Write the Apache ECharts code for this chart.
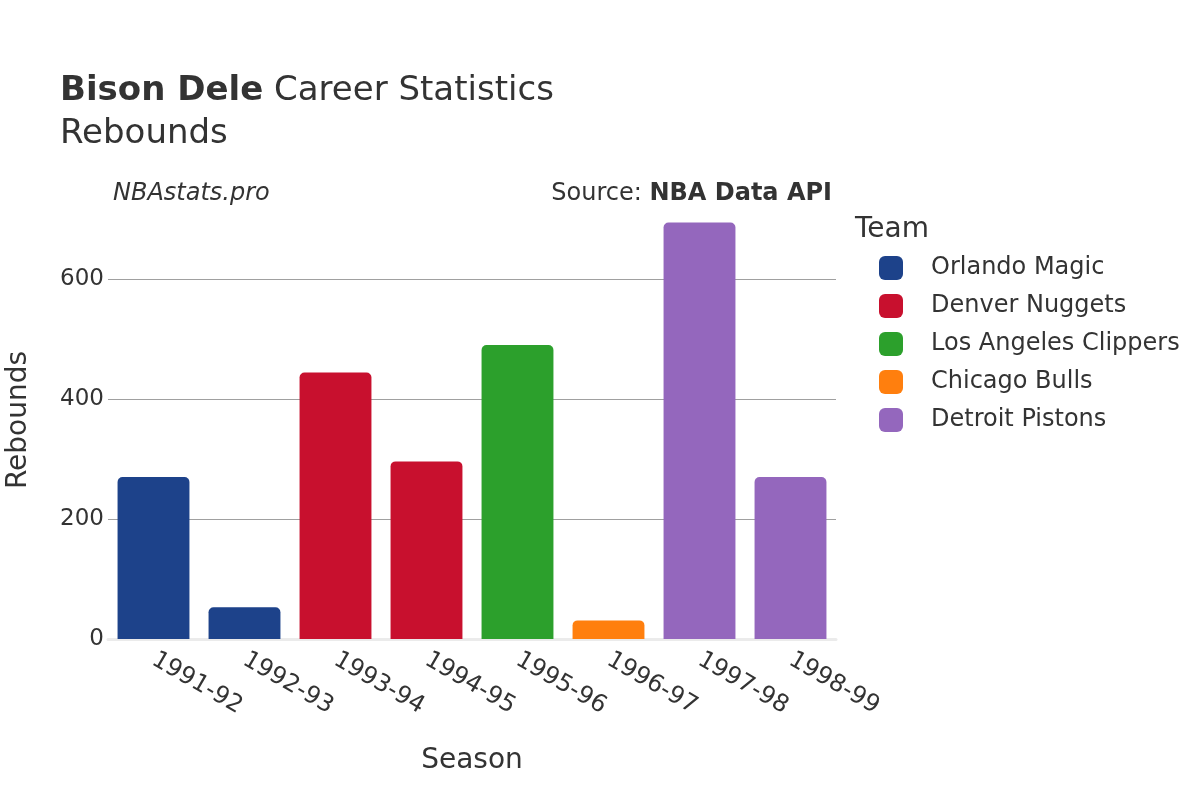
<!DOCTYPE html>
<html><head><meta charset="utf-8">
<script src="https://cdn.jsdelivr.net/npm/echarts@6/dist/echarts.min.js"></script>
<style>html,body{margin:0;padding:0;background:#fff}#c{width:1200px;height:800px}</style>
</head><body><div id="c"></div>
<script>
const seasons = ['1991-92','1992-93','1993-94','1994-95','1995-96','1996-97','1997-98','1998-99'];
const teams = ['Orlando Magic','Denver Nuggets','Los Angeles Clippers','Chicago Bulls','Detroit Pistons'];
const teamColors = ['#1d428a','#c8102e','#2ca02c','#ff7f0e','#9467bd'];
const seasonTeam = ['Orlando Magic','Orlando Magic','Denver Nuggets','Denver Nuggets','Los Angeles Clippers','Chicago Bulls','Detroit Pistons','Detroit Pistons'];
const rebounds = [270, 53, 444, 296, 490, 31, 694, 270];
const yTicks = [0, 200, 400, 600];

const F = 'DejaVu Sans';
const series = teams.map((t, i) => ({
  name: t,
  type: 'bar',
  stack: 'all',
  barCategoryGap: '21%',
  itemStyle: { color: teamColors[i], borderRadius: [5,5,0,0] },
  data: rebounds.map((v, j) => seasonTeam[j] === t ? v : null)
}));

const chart = echarts.init(document.getElementById('c'));
chart.setOption({
  animation: false,
  textStyle: { fontFamily: F },
  grid: { left: 108, right: 364, top: 201, bottom: 161, containLabel: false, outerBoundsMode: 'none' },
  title: [
    { text: '{b|Bison Dele} Career Statistics', left: 55, top: 69,
      textStyle: { fontFamily: F, fontSize: 34, color: '#333', fontWeight: 'normal',
        rich: { b: { fontFamily: F, fontSize: 34, fontWeight: 'bold', color: '#333' } } } },
    { text: 'Rebounds', left: 55, top: 112, textStyle: { fontFamily: F, fontSize: 34, color: '#333', fontWeight: 'normal' } },
    { text: 'NBAstats.pro', left: 108, top: 177, textStyle: { fontFamily: F, fontSize: 24, color: '#333', fontStyle: 'italic', fontWeight: 'normal' } },
    { text: 'Source: {b|NBA Data API}', right: 363, top: 177,
      textStyle: { fontFamily: F, fontSize: 24, color: '#333', fontWeight: 'normal',
        rich: { b: { fontFamily: F, fontSize: 24, fontWeight: 'bold', color: '#333' } } } },
    { text: 'Team', left: 850, top: 211, textStyle: { fontFamily: F, fontSize: 28, color: '#333', fontWeight: 'normal' } }
  ],
  legend: {
    orient: 'vertical', left: 874, top: 251, itemGap: 14, itemWidth: 24, itemHeight: 24,
    icon: 'roundRect',
    textStyle: { fontFamily: F, fontSize: 24, color: '#333', padding: [0,0,0,23] },
    data: teams
  },
  xAxis: {
    type: 'category', data: seasons,
    name: 'Season', nameLocation: 'middle', nameGap: 108,
    nameTextStyle: { fontFamily: F, fontSize: 28, color: '#333' },
    axisLine: { show: true, lineStyle: { color: '#ebebeb', width: 3 } },
    axisTick: { show: false },
    axisLabel: { rotate: -30, fontFamily: F, fontSize: 24, color: '#333', margin: 19, interval: 0 }
  },
  yAxis: {
    type: 'value', min: 0, max: 730, interval: 200,
    name: 'Rebounds', nameLocation: 'middle', nameGap: 75,
    nameTextStyle: { fontFamily: F, fontSize: 28, color: '#333' },
    axisLine: { show: false }, axisTick: { show: false },
    splitLine: { lineStyle: { color: ['#a0a0a0','#a0a0a0','#a0a0a0','#a0a0a0','rgba(0,0,0,0)'], width: 1 } },
    axisLabel: { fontFamily: F, fontSize: 23, color: '#333', margin: 4, padding: [3,0,0,0],
      formatter: v => yTicks.includes(v) ? String(v) : '' }
  },
  series: series
});
</script></body></html>
